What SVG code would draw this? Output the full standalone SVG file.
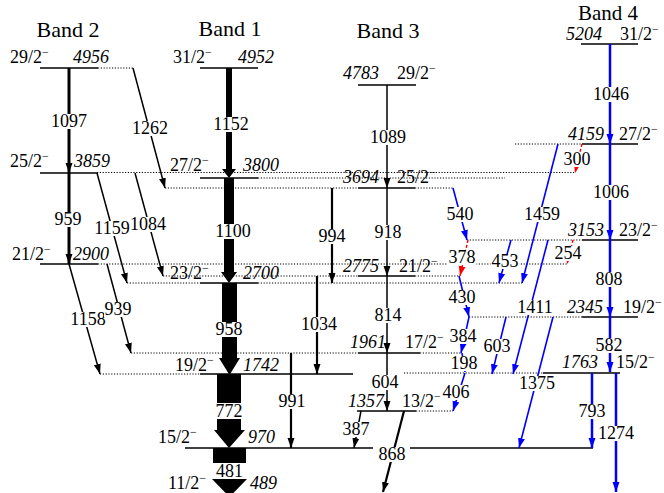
<svg xmlns="http://www.w3.org/2000/svg" width="664" height="493" viewBox="0 0 664 493">
<defs>
<style>
text{font-family:"Liberation Serif","Times New Roman",serif;font-size:18px;fill:#000}
.it{font-style:italic}
.m{text-anchor:middle}
.ti{font-size:22px}
.lv{stroke:#000;stroke-width:1.4}
.dt{stroke:#000;stroke-width:1;stroke-dasharray:1.2 1.6}
.bg{fill:#fff}
.k{stroke:#000;stroke-width:1.5;fill:none;marker-end:url(#ak)}
.k2{stroke:#000;stroke-width:2.2;fill:none;marker-end:url(#ak)}
.k3{stroke:#000;stroke-width:3;fill:none;marker-end:url(#ak)}
.b{stroke:#0000ff;stroke-width:1.6;fill:none;marker-end:url(#ab)}
.b2{stroke:#0000ff;stroke-width:2.5;fill:none;marker-end:url(#ab)}
.r{stroke:#ff0000;stroke-width:1.4;fill:none;stroke-dasharray:3 2;marker-end:url(#ar)}
.thick{fill:#000}
</style>
<marker id="ak" markerUnits="userSpaceOnUse" viewBox="0 0 10 8" markerWidth="10" markerHeight="8" refX="10" refY="4" orient="auto"><path d="M0,0.5 L10,4 L0,7.5z" fill="#000"/></marker>
<marker id="ab" markerUnits="userSpaceOnUse" viewBox="0 0 10 8" markerWidth="10" markerHeight="8" refX="10" refY="4" orient="auto"><path d="M0,0.5 L10,4 L0,7.5z" fill="#0000ff"/></marker>
<marker id="ar" markerUnits="userSpaceOnUse" viewBox="0 0 10 8" markerWidth="10" markerHeight="8" refX="10" refY="4" orient="auto"><path d="M0,0.5 L10,4 L0,7.5z" fill="#ff0000"/></marker>
</defs>
<rect width="664" height="493" fill="#fff"/>

<g id="titles">
<text class="ti m" x="68" y="37">Band 2</text>
<text class="ti m" x="230" y="36">Band 1</text>
<text class="ti m" x="388" y="38">Band 3</text>
<text class="ti m" x="608" y="20" style="font-size:21px">Band 4</text>
</g>

<g id="levels">
<g id="lvl-4956">
<line class="lv" x1="40" y1="68" x2="98" y2="68"/><line class="dt" x1="98" y1="68" x2="133" y2="68"/>
<text x="10" y="63">29/2<tspan dy="-7" font-size="12">−</tspan></text><text class="it" x="73" y="63">4956</text>
</g>
<g id="lvl-3859">
<line class="lv" x1="40" y1="173" x2="97" y2="173"/><line class="dt" x1="97" y1="172.5" x2="575" y2="172.5"/>
<text x="10" y="167">25/2<tspan dy="-7" font-size="12">−</tspan></text><text class="it" x="74" y="167">3859</text>
</g>
<g id="lvl-2900">
<line class="lv" x1="40" y1="264" x2="98" y2="264"/><line class="dt" x1="98" y1="264" x2="567" y2="264"/>
<text x="12" y="260">21/2<tspan dy="-7" font-size="12">−</tspan></text><text class="it" x="73" y="260">2900</text>
</g>
<g id="lvl-4952">
<line class="lv" x1="200" y1="68" x2="258" y2="68"/>
<text x="173" y="63">31/2<tspan dy="-7" font-size="12">−</tspan></text><text class="it" x="238" y="63">4952</text>
</g>
<g id="lvl-3800">
<line class="lv" x1="200" y1="178" x2="258" y2="178"/><line class="dt" x1="258" y1="178" x2="505" y2="178"/>
<text x="170" y="171">27/2<tspan dy="-7" font-size="12">−</tspan></text><text class="it" x="243" y="171">3800</text>
</g>
<g id="lvl-2700">
<line class="dt" x1="127" y1="283" x2="200" y2="283"/><line class="lv" x1="200" y1="283" x2="258" y2="283"/><line class="dt" x1="258" y1="283" x2="522" y2="283"/>
<text x="170" y="279">23/2<tspan dy="-7" font-size="12">−</tspan></text><text class="it" x="243" y="279">2700</text>
</g>
<g id="lvl-1742">
<line class="dt" x1="100" y1="374" x2="200" y2="374"/><line class="lv" x1="200" y1="374" x2="353" y2="374"/>
<text x="175" y="371">19/2<tspan dy="-7" font-size="12">−</tspan></text><text class="it" x="243" y="371">1742</text>
</g>
<g id="lvl-970">
<line class="lv" x1="185" y1="448" x2="373" y2="448"/><line class="lv" x1="410" y1="448" x2="593" y2="448"/>
<text x="158" y="443">15/2<tspan dy="-7" font-size="12">−</tspan></text><text class="it" x="248" y="443">970</text>
</g>
<g id="lvl-489">
<text x="168" y="489">11/2<tspan dy="-7" font-size="12">−</tspan></text><text class="it" x="250" y="489">489</text>
</g>
<g id="lvl-4783">
<line class="lv" x1="358" y1="85" x2="416" y2="85"/>
<text class="it" x="343" y="79">4783</text><text x="397" y="79">29/2<tspan dy="-7" font-size="12">−</tspan></text>
</g>
<g id="lvl-3694">
<line class="dt" x1="165" y1="188" x2="358" y2="188"/><line class="lv" x1="358" y1="188" x2="415" y2="188"/><line class="dt" x1="415" y1="188" x2="453" y2="188"/>
<text class="it" x="343" y="183">3694</text><text x="397" y="183">25/2<tspan dy="-7" font-size="12">−</tspan></text>
</g>
<g id="lvl-2775">
<line class="dt" x1="163" y1="276" x2="358" y2="276"/><line class="lv" x1="358" y1="276" x2="415" y2="276"/><line class="dt" x1="415" y1="276" x2="460" y2="276"/>
<text class="it" x="343" y="272">2775</text><text x="399" y="272">21/2<tspan dy="-7" font-size="12">−</tspan></text>
</g>
<g id="lvl-1961">
<line class="dt" x1="131" y1="353" x2="358" y2="353"/><line class="lv" x1="358" y1="353" x2="420" y2="353"/><line class="dt" x1="420" y1="353" x2="462" y2="353"/>
<text class="it" x="350" y="348">1961</text><text x="405" y="348">17/2<tspan dy="-7" font-size="12">−</tspan></text>
</g>
<g id="lvl-1357">
<line class="lv" x1="357" y1="411" x2="416" y2="411"/><line class="dt" x1="416" y1="411" x2="453" y2="411"/>
<text class="it" x="348" y="407">1357</text><text x="402" y="407">13/2<tspan dy="-7" font-size="12">−</tspan></text>
</g>
<g id="lvl-5204">
<line class="lv" x1="581" y1="44" x2="638" y2="44"/>
<text class="it" x="566" y="40">5204</text><text x="620" y="40">31/2<tspan dy="-7" font-size="12">−</tspan></text>
</g>
<g id="lvl-4159">
<line class="dt" x1="515" y1="144" x2="582" y2="144"/><line class="lv" x1="582" y1="144" x2="638" y2="144"/>
<text class="it" x="568" y="140">4159</text><text x="619" y="140">27/2<tspan dy="-7" font-size="12">−</tspan></text>
</g>
<g id="lvl-3153">
<line class="dt" x1="467" y1="240" x2="582" y2="240"/><line class="lv" x1="582" y1="240" x2="638" y2="240"/>
<text class="it" x="568" y="236">3153</text><text x="619" y="236">23/2<tspan dy="-7" font-size="12">−</tspan></text>
</g>
<g id="lvl-2345">
<line class="dt" x1="469" y1="317" x2="582" y2="317"/><line class="lv" x1="582" y1="317" x2="638" y2="317"/>
<text class="it" x="567" y="313">2345</text><text x="623" y="313">19/2<tspan dy="-7" font-size="12">−</tspan></text>
</g>
<g id="lvl-1763">
<line class="dt" x1="404" y1="373" x2="543" y2="373"/><line class="lv" x1="543" y1="373" x2="620" y2="373"/>
<text class="it" x="562" y="368">1763</text><text x="616" y="368">15/2<tspan dy="-7" font-size="12">−</tspan></text>
</g>
</g>

<g id="connectors">
<polygon class="thick" points="226,68 232,68 232,169 236,169 229,178 222,169 226,169"/>
<polygon class="thick" points="224,178 234,178 234,272 237,272 229,283 221,272 224,272"/>
<polygon class="thick" points="222,283 237,283 237,358 240,358 229.5,375 219,358 222,358"/>
<polygon class="thick" points="217,374 241,374 241,430 245,430 229,448 214,430 217,430"/>
<polygon class="thick" points="213,448 246,448 246,479 247,479 229.5,497 212,479 213,479"/>
<rect class="bg" x="212" y="117" width="38" height="15"/><text class="m" x="231" y="130">1152</text>
<rect class="bg" x="214" y="224" width="38" height="15"/><text class="m" x="233" y="237">1100</text>
<rect class="bg" x="214" y="322" width="31" height="15"/><text class="m" x="229" y="335">958</text>
<rect class="bg" x="213" y="403" width="32" height="16"/><text class="m" x="229" y="417">772</text>
<rect class="bg" x="211" y="463" width="37" height="16"/><text class="m" x="229.5" y="477">481</text>

<line class="k3" x1="69" y1="68" x2="69" y2="173"/><rect class="bg" x="50" y="114" width="38" height="15"/><text class="m" x="69" y="127">1097</text>
<line class="k3" x1="69" y1="173" x2="69" y2="264"/><rect class="bg" x="53.5" y="212" width="29" height="15"/><text class="m" x="68" y="225">959</text>
<line class="k" x1="133" y1="68" x2="165" y2="188"/><rect class="bg" x="131" y="121" width="38" height="15"/><text class="m" x="150" y="134">1262</text>
<line class="k" x1="97" y1="173" x2="127" y2="283"/><rect class="bg" x="94" y="221" width="36" height="15"/><text class="m" x="112" y="234">1159</text>
<line class="k" x1="135" y1="173" x2="163" y2="276"/><rect class="bg" x="130" y="217" width="36" height="15"/><text class="m" x="148" y="230">1084</text>
<line class="k" x1="69" y1="264" x2="100" y2="374"/><rect class="bg" x="69" y="312" width="38" height="15"/><text class="m" x="88" y="325">1158</text>
<line class="k" x1="107" y1="264" x2="131" y2="353"/><rect class="bg" x="104" y="302" width="29" height="15"/><text class="m" x="118" y="315">939</text>

<line class="k2" x1="332" y1="188" x2="332" y2="283"/><rect class="bg" x="317.5" y="229" width="29" height="15"/><text class="m" x="332" y="242">994</text>
<line class="k2" x1="317" y1="276" x2="317" y2="374"/><rect class="bg" x="300" y="317" width="38" height="15"/><text class="m" x="319" y="330">1034</text>
<line class="k2" x1="291" y1="353" x2="291" y2="448"/><rect class="bg" x="277.5" y="394" width="29" height="15"/><text class="m" x="292" y="407">991</text>

<line class="k" x1="387" y1="85" x2="387" y2="188"/><rect class="bg" x="369" y="130" width="38" height="15"/><text class="m" x="388" y="143">1089</text>
<line class="k" x1="387" y1="188" x2="387" y2="276"/><rect class="bg" x="373.5" y="225" width="29" height="15"/><text class="m" x="388" y="238">918</text>
<line class="k" x1="387" y1="276" x2="387" y2="353"/><rect class="bg" x="373.5" y="308" width="29" height="15"/><text class="m" x="388" y="321">814</text>
<line class="k" x1="387" y1="353" x2="387" y2="411"/><rect class="bg" x="370.5" y="375" width="29" height="15"/><text class="m" x="385" y="388">604</text>
<line class="k" x1="361" y1="411" x2="354" y2="448"/><rect class="bg" x="341.5" y="422" width="29" height="15"/><text class="m" x="356" y="435">387</text>
<line class="k2" x1="404" y1="411" x2="383" y2="492"/><rect class="bg" x="377.5" y="447" width="29" height="15"/><text class="m" x="392" y="460">868</text>

<line class="b2" x1="610" y1="44" x2="610" y2="144"/><rect class="bg" x="592" y="87" width="38" height="15"/><text class="m" x="611" y="100">1046</text>
<line class="b2" x1="610" y1="144" x2="610" y2="240"/><rect class="bg" x="592" y="185" width="38" height="15"/><text class="m" x="611" y="198">1006</text>
<line class="b2" x1="610" y1="240" x2="610" y2="317"/><rect class="bg" x="594.5" y="272" width="29" height="15"/><text class="m" x="609" y="285">808</text>
<line class="b2" x1="610" y1="317" x2="610" y2="372"/><rect class="bg" x="594.5" y="338" width="29" height="15"/><text class="m" x="609" y="351">582</text>
<line class="b2" x1="616" y1="373" x2="616" y2="492"/><rect class="bg" x="597" y="426" width="38" height="15"/><text class="m" x="616" y="439">1274</text>
<line class="b2" x1="592" y1="373" x2="592" y2="448"/><rect class="bg" x="577.5" y="404" width="29" height="15"/><text class="m" x="592" y="417">793</text>
<line class="b" x1="553" y1="317" x2="519" y2="448"/><rect class="bg" x="518" y="376" width="38" height="15"/><text class="m" x="537" y="389">1375</text>
<line class="b" x1="558" y1="144" x2="522" y2="283"/><rect class="bg" x="523" y="207" width="38" height="15"/><text class="m" x="542" y="220">1459</text>
<line class="b" x1="548" y1="240" x2="513" y2="374"/><rect class="bg" x="516" y="300" width="38" height="15"/><text class="m" x="535" y="313">1411</text>
<line class="b" x1="506" y1="317" x2="492" y2="374"/><rect class="bg" x="482.5" y="339" width="29" height="15"/><text class="m" x="497" y="352">603</text>
<line class="b" x1="511" y1="240" x2="499" y2="283"/><rect class="bg" x="490.5" y="254" width="29" height="15"/><text class="m" x="505" y="267">453</text>
<line class="b" x1="453" y1="188" x2="467" y2="240"/><rect class="bg" x="445.5" y="207" width="29" height="15"/><text class="m" x="460" y="220">540</text>
<line class="b" x1="459" y1="276" x2="469" y2="317"/><rect class="bg" x="447.5" y="290" width="29" height="15"/><text class="m" x="462" y="303">430</text>
<line class="b" x1="469" y1="317" x2="461" y2="353"/><rect class="bg" x="448.5" y="329" width="29" height="15"/><text class="m" x="463" y="342">384</text>
<line class="b" x1="462" y1="353" x2="465" y2="372"/><rect class="bg" x="449.5" y="356" width="29" height="15"/><text class="m" x="464" y="369">198</text>
<line class="b" x1="465" y1="373" x2="453" y2="411"/><rect class="bg" x="441.5" y="385" width="29" height="15"/><text class="m" x="456" y="398">406</text>
<line class="r" x1="582" y1="144" x2="575" y2="173"/><rect class="bg" x="562.5" y="152" width="29" height="15"/><text class="m" x="577" y="165">300</text>
<line class="r" x1="468" y1="240" x2="460" y2="276"/><rect class="bg" x="447.5" y="250" width="29" height="15"/><text class="m" x="462" y="263">378</text>
<line class="r" x1="573" y1="240" x2="567" y2="264"/><rect class="bg" x="553.5" y="246" width="29" height="15"/><text class="m" x="568" y="259">254</text>
</g>
</svg>
